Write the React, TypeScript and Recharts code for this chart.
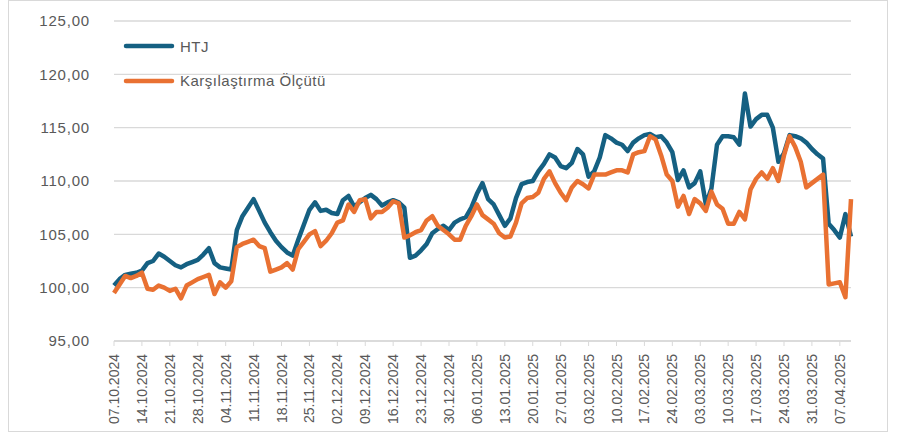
import React from 'react';
import { LineChart, Line, XAxis, YAxis, CartesianGrid, Legend } from 'recharts';

document.body.style.margin = '0';

// HTJ fund index, business days from 07.10.2024
const HTJ = [
  100.2, 100.8, 101.2, 101.3, 101.4, 101.6, 102.3, 102.5, 103.2, 102.9,
  102.5, 102.1, 101.9, 102.2, 102.4, 102.6, 103.1, 103.7, 102.3, 101.9,
  101.8, 101.7, 105.4, 106.7, 107.5, 108.3, 107.2, 106.1, 105.2, 104.4,
  103.8, 103.3, 103.0, 104.5, 105.9, 107.3, 108.0, 107.2, 107.3, 107.0,
  106.9, 108.2, 108.6, 107.6, 108.0, 108.4, 108.7, 108.3, 107.7, 108.0,
  108.2, 108.0, 107.5, 102.8, 103.0, 103.5, 104.1, 105.1, 105.5, 105.8,
  105.4, 106.1, 106.4, 106.6, 107.5, 108.8, 109.8, 108.3, 107.8, 106.8,
  105.8, 106.5, 108.4, 109.7, 109.9, 110.0, 110.9, 111.6, 112.5, 112.2,
  111.4, 111.2, 111.7, 113.0, 112.5, 110.4, 110.9, 112.2, 114.3, 114.0,
  113.6, 113.4, 112.8, 113.6, 114.0, 114.3, 114.4, 114.1, 114.2, 113.6,
  112.7, 110.1, 111.0, 109.4, 109.8, 110.9, 107.8, 109.3, 113.4, 114.2,
  114.2, 114.1, 113.4, 118.2, 115.1, 115.8, 116.2, 116.2, 115.0, 111.8,
  112.6, 114.3, 114.2, 114.0, 113.6, 113.0, 112.5, 112.1, 106.0, 105.4,
  104.7, 106.9, 104.8,
];

// Karşılaştırma Ölçütü (benchmark)
const BENCH = [
  99.5, 100.3, 101.1, 100.9, 101.1, 101.4, 99.9, 99.8, 100.2, 100.0,
  99.7, 99.9, 99.0, 100.2, 100.5, 100.8, 101.0, 101.2, 99.4, 100.5,
  100.0, 100.6, 103.8, 104.1, 104.3, 104.5, 103.9, 103.7, 101.5, 101.7,
  101.9, 102.3, 101.7, 103.6, 104.3, 105.0, 105.3, 103.9, 104.4, 105.1,
  106.1, 106.3, 107.8, 107.1, 108.2, 108.3, 106.5, 107.1, 107.1, 107.5,
  108.1, 107.9, 104.7, 104.9, 105.2, 105.4, 106.3, 106.7, 105.8, 105.4,
  105.0, 104.5, 104.5, 105.8, 106.7, 107.8, 106.8, 106.4, 106.0, 105.1,
  104.7, 104.8, 106.1, 107.9, 108.4, 108.5, 108.9, 110.2, 110.9, 109.8,
  108.9, 108.2, 109.4, 110.0, 109.7, 109.3, 110.6, 110.6, 110.6, 110.8,
  111.0, 111.0, 110.8, 112.5, 112.7, 112.8, 114.2, 113.9, 112.4, 110.6,
  110.0, 107.6, 108.6, 106.9, 108.3, 107.9, 107.2, 109.0, 107.8, 107.4,
  106.0, 106.0, 107.1, 106.4, 109.2, 110.2, 110.8, 110.2, 111.2, 110.0,
  112.4, 114.2, 113.2, 111.8, 109.4, 109.8, 110.2, 110.6, 100.3, 100.4,
  100.5, 99.1, 108.3,
];

const TICK_LABELS = [
  '07.10.2024', '14.10.2024', '21.10.2024', '28.10.2024', '04.11.2024',
  '11.11.2024', '18.11.2024', '25.11.2024', '02.12.2024', '09.12.2024',
  '16.12.2024', '23.12.2024', '30.12.2024', '06.01.2025', '13.01.2025',
  '20.01.2025', '27.01.2025', '03.02.2025', '10.02.2025', '17.02.2025',
  '24.02.2025', '03.03.2025', '10.03.2025', '17.03.2025', '24.03.2025',
  '31.03.2025', '07.04.2025',
];

const Y_TICKS = [95, 100, 105, 110, 115, 120, 125];

const BLUE = '#156082';
const ORANGE = '#E97132';
const TEXT = '#595959';
const GRID = '#d9d9d9';
const FONT = '"Liberation Sans", Arial, sans-serif';

// weekday calendar starting Monday 07.10.2024
function businessDays(count: number) {
  const out: string[] = [];
  let t = Date.UTC(2024, 9, 7);
  while (out.length < count) {
    const d = new Date(t);
    const wd = d.getUTCDay();
    if (wd !== 0 && wd !== 6) {
      const dd = String(d.getUTCDate()).padStart(2, '0');
      const mm = String(d.getUTCMonth() + 1).padStart(2, '0');
      out.push(`${dd}.${mm}.${d.getUTCFullYear()}`);
    }
    t += 86400000;
  }
  return out;
}

const DATES = businessDays(HTJ.length);

const data = DATES.map((date, i) => ({ date, htj: HTJ[i], bench: BENCH[i] }));

const fmt = (v: number) => v.toFixed(2).replace('.', ',');

function DateTick({ x, y, payload }: any) {
  return (
    <text
      transform={`translate(${x},${y + 6}) rotate(-90)`}
      textAnchor="end"
      dominantBaseline="central"
      fill={TEXT}
      fontSize={14}
      fontFamily={FONT}
    >
      {payload.value}
    </text>
  );
}

function LegendBox() {
  const items = [
    { label: 'HTJ', color: BLUE },
    { label: 'Karşılaştırma Ölçütü', color: ORANGE },
  ];
  return (
    <div style={{ fontFamily: FONT, fontSize: 15, color: TEXT }}>
      {items.map((it) => (
        <div key={it.label} style={{ display: 'flex', alignItems: 'center', height: 34.5 }}>
          <svg width={52} height={8} style={{ marginRight: 5 }}>
            <line x1={3} y1={4} x2={49} y2={4} stroke={it.color} strokeWidth={4.5} strokeLinecap="round" />
          </svg>
          <span style={{ letterSpacing: 0.5, whiteSpace: 'nowrap' }}>{it.label}</span>
        </div>
      ))}
    </div>
  );
}

export default function App() {
  return (
    <div style={{ position: 'relative', width: 897, height: 436, background: '#fff' }}>
      <div
        style={{
          position: 'absolute',
          left: 8,
          top: 0,
          width: 880,
          height: 432,
          border: '1px solid #d9d9d9',
          boxSizing: 'border-box',
        }}
      />
      <LineChart
        width={897}
        height={436}
        data={data}
        margin={{ top: 21, right: 46, left: 0, bottom: 0 }}
        style={{ position: 'absolute', left: 0, top: 0 }}
      >
        <CartesianGrid vertical={false} stroke={GRID} strokeWidth={1.3} />
        <XAxis
          dataKey="date"
          ticks={TICK_LABELS}
          interval={0}
          height={95}
          tick={<DateTick />}
          tickSize={5}
          axisLine={{ stroke: GRID, strokeWidth: 1.3 }}
          tickLine={{ stroke: GRID }}
        />
        <YAxis
          domain={[95, 125]}
          ticks={Y_TICKS}
          width={114}
          tickFormatter={fmt}
          axisLine={false}
          tickLine={false}
          tickMargin={18}
          tick={{ fill: TEXT, fontSize: 15, fontFamily: FONT, letterSpacing: 0.8 }}
        />
        <Legend
          verticalAlign="middle"
          align="center"
          layout="horizontal"
          content={<LegendBox />}
          wrapperStyle={{ top: 29, left: 123, width: 260, height: 70 }}
        />
        <Line
          type="linear"
          dataKey="htj"
          name="HTJ"
          stroke={BLUE}
          strokeWidth={4.5}
          strokeLinejoin="round"
          dot={false}
          isAnimationActive={false}
        />
        <Line
          type="linear"
          dataKey="bench"
          name="Karşılaştırma Ölçütü"
          stroke={ORANGE}
          strokeWidth={4.5}
          strokeLinejoin="round"
          dot={false}
          isAnimationActive={false}
        />
      </LineChart>
    </div>
  );
}
